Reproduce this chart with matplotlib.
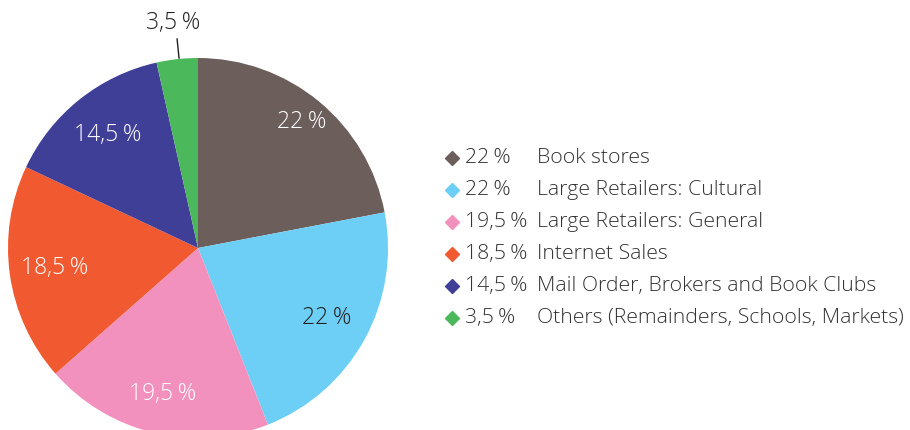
import numpy as np
import matplotlib.pyplot as plt

plt.rcParams['font.family'] = ['Open Sans', 'DejaVu Sans']

labels = ['Book stores', 'Large Retailers: Cultural', 'Large Retailers: General',
          'Internet Sales', 'Mail Order, Brokers and Book Clubs',
          'Others (Remainders, Schools, Markets)']
shares = [22, 22, 19.5, 18.5, 14.5, 3.5]
colors = ['#6b5e5b', '#6dcff6', '#f291bd', '#f15a30', '#3f3f98', '#4cb85c']
text_colors = ['white', '#231f20', 'white', 'white', 'white', '#231f20']
label_r = [0.86, 0.77, 0.79, 0.76, 0.76, 1.19]


def fmt(v):
    s = ('%g' % v).replace('.', ',')
    return s + '\u2009%'


fig = plt.figure(figsize=(9.1, 4.3), dpi=100)
W, H = 910, 430

# pie axes: centre (198, 248) px, radius 190 px
cx, cy, r = 198, 248, 190
ax = fig.add_axes([(cx - r) / W, (H - cy - r) / H, 2 * r / W, 2 * r / H])
wedges, _ = ax.pie(shares, colors=colors, startangle=90, counterclock=False,
                   radius=1, wedgeprops=dict(linewidth=0))
ax.set_xlim(-1, 1)
ax.set_ylim(-1, 1)
ax.set_aspect('equal')
ax.axis('off')

for w, v, tc, lr in zip(wedges, shares, text_colors, label_r):
    mid = np.deg2rad((w.theta1 + w.theta2) / 2)
    x, y = lr * np.cos(mid), lr * np.sin(mid)
    ax.text(x, y, fmt(v), color=tc, fontsize=16.5, fontweight='light',
            ha='center', va='center', clip_on=False)
    if lr > 1:
        # leader line from the rim to the outside label
        ax.plot([-0.10, -0.11], [1.0, 1.10], color='#231f20', lw=1, clip_on=False)

# legend drawn in pixel coordinates
lax = fig.add_axes([0, 0, 1, 1])
lax.set_xlim(0, W)
lax.set_ylim(H, 0)
lax.axis('off')
lax.patch.set_alpha(0)
row_y = 158
for i, (lab, v, c) in enumerate(zip(labels, shares, colors)):
    y = row_y + i * 32
    lax.plot(452, y, marker='D', color=c, markersize=7, linestyle='none')
    lax.text(465, y, fmt(v), fontsize=15.3, fontweight='light', color='#333333',
             ha='left', va='center')
    lax.text(537, y, lab, fontsize=15.3, fontweight='light', color='#333333',
             ha='left', va='center')

fig.savefig('out.png', dpi=100)
